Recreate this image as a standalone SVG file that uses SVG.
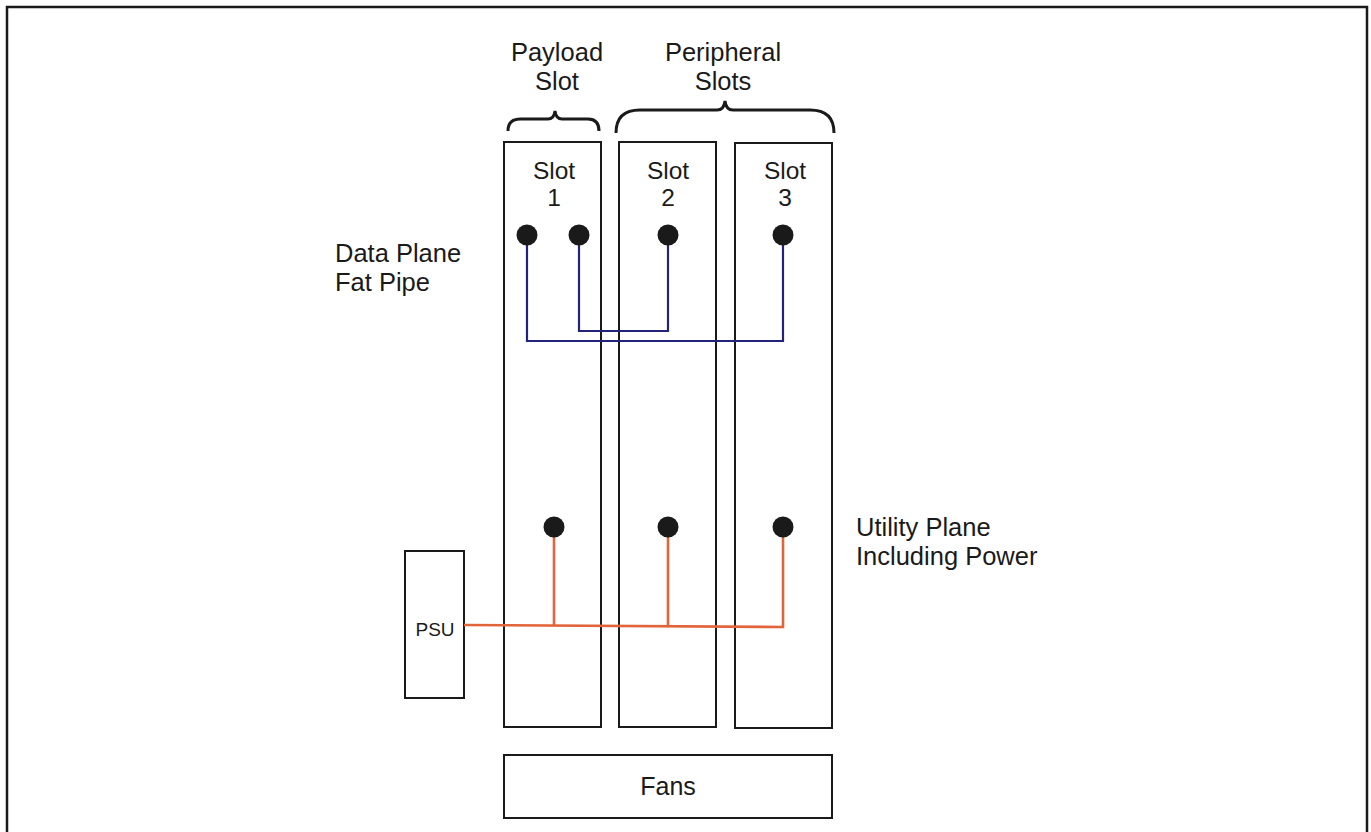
<svg xmlns="http://www.w3.org/2000/svg" width="1371" height="832" viewBox="0 0 1371 832">
<style>
.box{fill:#fff;stroke:#1a1a1a;stroke-width:2}
.t{font-family:"Liberation Sans",Arial,sans-serif;fill:#1a1a1a}
.dot{fill:#1a1a1a}
.blue{fill:none;stroke:#23237a;stroke-width:2.2}
.orange{fill:none;stroke:#e2643a;stroke-width:2.6}
.brace{fill:none;stroke:#1a1a1a;stroke-width:3}
</style>
<rect x="0" y="0" width="1371" height="832" fill="#fff"/>
<path d="M7 840 V7 H1367 V840" fill="none" stroke="#1a1a1a" stroke-width="2.5"/>
<g id="labels">
<text class="t" x="557" y="61" font-size="25.5" text-anchor="middle">Payload</text>
<text class="t" x="557" y="90" font-size="25.5" text-anchor="middle">Slot</text>
<text class="t" x="723" y="61" font-size="25.5" text-anchor="middle">Peripheral</text>
<text class="t" x="723" y="90" font-size="25.5" text-anchor="middle">Slots</text>
<text class="t" x="335" y="262" font-size="25.5">Data Plane</text>
<text class="t" x="335" y="291" font-size="25.5">Fat Pipe</text>
<text class="t" x="856" y="536" font-size="25.5">Utility Plane</text>
<text class="t" x="856" y="565" font-size="25.5">Including Power</text>
<path class="brace" d="M508 131 Q508 119 520 119 H548 Q554 119 555 111 Q556 119 562 119 H588 Q599 119 599 131"/>
<path class="brace" d="M616 133 Q616 110 640 110 H717 Q724 110 725 101 Q726 110 733 110 H810 Q834 110 834 133"/>
</g>
<g id="slot1">
<rect class="box" x="504" y="142" width="97" height="585"/>
<text class="t" x="554" y="179" font-size="24.5" text-anchor="middle">Slot</text>
<text class="t" x="554" y="206" font-size="24.5" text-anchor="middle">1</text>
</g>
<g id="slot2">
<rect class="box" x="619" y="142" width="97" height="585"/>
<text class="t" x="668" y="179" font-size="24.5" text-anchor="middle">Slot</text>
<text class="t" x="668" y="206" font-size="24.5" text-anchor="middle">2</text>
</g>
<g id="slot3">
<rect class="box" x="735" y="143" width="97" height="585"/>
<text class="t" x="785" y="179" font-size="24.5" text-anchor="middle">Slot</text>
<text class="t" x="785" y="206" font-size="24.5" text-anchor="middle">3</text>
</g>
<g id="fans">
<rect class="box" x="504" y="755" width="328" height="63"/>
<text class="t" x="668" y="795" font-size="25" text-anchor="middle">Fans</text>
</g>
<g id="psu">
<rect class="box" x="405" y="551" width="59" height="147"/>
<text class="t" x="435" y="636" font-size="19" text-anchor="middle">PSU</text>
</g>
<g id="connectors">
<path class="blue" d="M527 235 V341 H783 V235"/>
<path class="blue" d="M579 235 V331 H668 V235"/>
<path class="orange" d="M464 625 L783 627 V527"/>
<path class="orange" d="M554 527 V625.5"/>
<path class="orange" d="M668 527 V626.3"/>
</g>
<g id="dots">
<circle class="dot" cx="527" cy="235" r="10.5"/>
<circle class="dot" cx="579" cy="235" r="10.5"/>
<circle class="dot" cx="668" cy="235" r="10.5"/>
<circle class="dot" cx="783" cy="235" r="10.5"/>
<circle class="dot" cx="554" cy="527" r="10.5"/>
<circle class="dot" cx="668" cy="527" r="10.5"/>
<circle class="dot" cx="783" cy="527" r="10.5"/>
</g>
</svg>
